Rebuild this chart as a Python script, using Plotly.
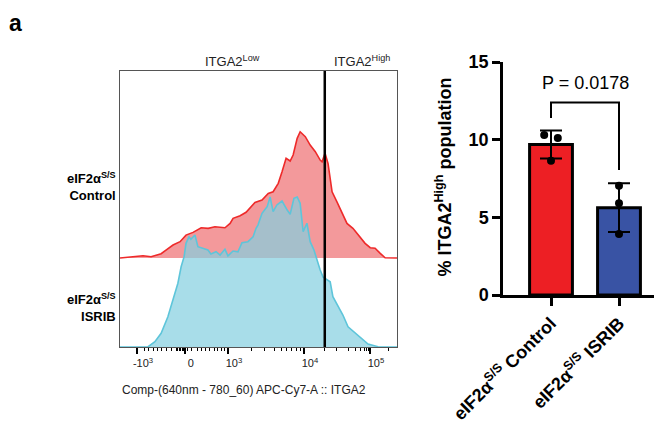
import plotly.graph_objects as go

# The page body keeps an 8 px default margin, so the figure is drawn 8 px in from the window corner.
WIN_W, WIN_H = 662, 423
BODY = 8
W, H = WIN_W - BODY, WIN_H - BODY

# ---------------- Flow histogram data (display channel 0-1024, count as % of max) ----------------
red_channel = [0, 48, 85, 115, 152, 170, 196, 222, 244, 270, 300, 326, 351, 388, 407, 418, 444, 466,
               485, 499, 525, 548, 566, 585, 599, 614, 629, 640, 655, 666, 685, 703, 722, 740, 747,
               758, 769, 777, 784, 802, 821, 839, 861, 888, 906, 925, 943, 962, 980, 1024]
red_count = [0, 0.7, 1.5, 0.9, 2.9, 5.3, 8.7, 10.9, 15.3, 17.1, 20.2, 19.8, 20.9, 20.2, 23.1, 26.5, 28.2, 30.5,
             34.2, 37.1, 38.7, 43.1, 44.2, 49.8, 57.5, 66.5, 64.7, 68.7, 79.8, 84.2, 80.9, 75.3, 70.9, 65.3, 64.2,
             69.8, 63.1, 53.1, 44.2, 37.5, 29.8, 23.1, 19.8, 14.2, 9.8, 6.9, 6.5, 3.1, 0.2, 0]

cyan_channel = [0, 104, 129, 152, 177, 196, 214, 226, 237, 244, 255, 262, 277, 288, 307, 325, 336, 355,
                370, 388, 399, 418, 436, 451, 473, 492, 503, 510, 525, 544, 555, 566, 580, 599, 618, 629,
                643, 655, 666, 677, 691, 703, 717, 728, 740, 751, 765, 777, 787, 806, 824, 843, 869, 895,
                917, 954, 991, 1024]
cyan_count = [0, 0.2, 3.5, 9.1, 20.2, 31.3, 42.5, 53.5, 60.2, 69.1, 73.5, 71.8, 74.7, 66.9, 65.8, 64.7, 62, 63.5,
              61.3, 65.1, 60.7, 64, 63.5, 69.5, 70.2, 73.5, 79.1, 81.3, 89.1, 93.5, 100, 90.2, 94.7, 97.3, 91.3, 88.5,
              99.1, 100, 95.8, 76.9, 82.5, 70.2, 64.7, 58, 51.3, 46.5, 44.7, 43.5, 33.5, 26.9, 21.3, 13.5, 9.5, 5.8,
              2, 0.2, 0, 0]

flow_tick_vals = [63, 240, 399, 680, 924]
flow_tick_text = ["-10<sup>3</sup>", "0", "10<sup>3</sup>", "10<sup>4</sup>", "10<sup>5</sup>"]
flow_minor_vals = [91, 107, 122, 138, 155, 171, 190, 209, 214, 220, 225, 231, 236, 250,
                   266, 286, 300, 315, 332, 350, 362, 377, 387,
                   485, 535, 572, 596, 615, 633, 652, 668,
                   755, 800, 843, 870, 890, 902, 911, 917, 991]
gate_channel = 757
red_offset = 59.3   # stacked-histogram offset of the upper (Control) row

# ---------------- Bar chart data ----------------
groups = ["eIF2α<sup>S/S</sup> Control", "eIF2α<sup>S/S</sup> ISRIB"]
control_pts = [10.3, 10.1, 8.65]
isrib_pts = [7.04, 5.9, 3.93]
control_jitter = [-0.1, 0.1, 0.0]
isrib_jitter = [0.0, 0.0, 0.0]
bar_colors = ["#ed1f24", "#3953a4"]
p_text = "P = 0.0178"


def mean(v):
    return sum(v) / len(v)


def sd(v):
    m = mean(v)
    return (sum((a - m) ** 2 for a in v) / (len(v) - 1)) ** 0.5


means = [mean(control_pts), mean(isrib_pts)]
sds = [sd(control_pts), sd(isrib_pts)]

FONT = "Arial, Liberation Sans, sans-serif"


def px(x):
    return (x - BODY) / W


def py(y):
    return 1 - (y - BODY) / H


fig = go.Figure()

# Flow histograms
fig.add_trace(go.Scatter(x=[0, 1024], y=[red_offset, red_offset], mode="lines",
                         line=dict(width=0, color="rgba(0,0,0,0)"), hoverinfo="skip",
                         xaxis="x", yaxis="y"))
fig.add_trace(go.Scatter(x=red_channel, y=[red_offset + c for c in red_count], mode="lines",
                         line=dict(color="#ee2a2a", width=1.6), fill="tonexty", fillcolor="#f3999b",
                         xaxis="x", yaxis="y"))
fig.add_trace(go.Scatter(x=cyan_channel, y=cyan_count, mode="lines",
                         line=dict(color="#5ec5da", width=1.6), fill="tozeroy",
                         fillcolor="rgba(131,206,224,0.7)", xaxis="x", yaxis="y"))

# Bar chart
fig.add_trace(go.Bar(x=[0, 1], y=means, width=0.63, marker=dict(color=bar_colors,
                     line=dict(color="black", width=3)),
                     error_y=dict(type="data", array=sds, visible=True, color="black",
                                  thickness=2, width=11),
                     xaxis="x2", yaxis="y2"))
fig.add_trace(go.Scatter(x=[0 + j for j in control_jitter] + [1 + j for j in isrib_jitter],
                         y=control_pts + isrib_pts, mode="markers",
                         marker=dict(color="black", size=8), xaxis="x2", yaxis="y2"))
# significance bracket
fig.add_trace(go.Scatter(x=[0, 0, 1, 1], y=[11.4, 12.4, 12.4, 8.05], mode="lines",
                         line=dict(color="black", width=2), xaxis="x2", yaxis="y2"))

fig.update_layout(
    template="none",
    width=W, height=H, margin=dict(l=0, r=0, t=0, b=0, pad=0, autoexpand=False),
    paper_bgcolor="white", plot_bgcolor="white", showlegend=False,
    font=dict(family=FONT, color="black"),
    xaxis=dict(domain=[px(120), px(397)], range=[0, 1024], anchor="y", automargin=False,
               showline=True, linecolor="#555", linewidth=1.2, mirror=True,
               showgrid=False, zeroline=False,
               tickmode="array", tickvals=flow_tick_vals, ticktext=flow_tick_text,
               ticks="outside", ticklen=6, tickwidth=2, tickcolor="black",
               ticklabelshift=6,
               tickfont=dict(size=11, color="#222"),
               minor=dict(tickmode="array", tickvals=flow_minor_vals, ticks="outside",
                          ticklen=3, tickwidth=1.2, tickcolor="black", showgrid=False)),
    yaxis=dict(domain=[py(347), py(71)], range=[0, 184], anchor="x", automargin=False,
               showline=True, linecolor="#555", linewidth=1.2, mirror=True,
               showgrid=False, zeroline=False, showticklabels=False, ticks=""),
    xaxis2=dict(domain=[px(503), px(660)], range=[-0.706, 1.603], anchor="y2", automargin=False,
                tickmode="array", tickvals=[0, 1], ticktext=groups, tickangle=-45,
                showline=True, linecolor="black", linewidth=2.5,
                ticks="outside", ticklen=8, tickwidth=2.5, tickcolor="black",
                showgrid=False, zeroline=False,
                tickfont=dict(size=18, weight="bold", color="black")),
    yaxis2=dict(domain=[py(295), py(62)], range=[0, 15], anchor="x2", automargin=False,
                tickmode="array", tickvals=[0, 5, 10, 15],
                showline=True, linecolor="black", linewidth=2.5,
                ticks="outside", ticklen=8, tickwidth=2.5, tickcolor="black",
                showgrid=False, zeroline=False,
                tickfont=dict(size=18, weight="bold", color="black")),
)

fig.add_shape(type="line", xref="x", yref="paper", x0=gate_channel, x1=gate_channel,
              y0=py(347), y1=py(71), line=dict(color="black", width=2.5), layer="above")

ann = [
    dict(text="a", x=px(15), y=1, size=23, bold=True, xanchor="center", yanchor="top"),
    dict(text="ITGA2<sup>Low</sup>", x=px(232), y=py(61), size=13, bold=False, xanchor="center", color="#222"),
    dict(text="ITGA2<sup>High</sup>", x=px(362), y=py(61), size=13, bold=False, xanchor="center", color="#222"),
    dict(text="eIF2α<sup>S/S</sup><br>Control", x=px(118), y=py(186), size=13, bold=True, xanchor="right"),
    dict(text="eIF2α<sup>S/S</sup><br>ISRIB", x=px(118), y=py(307), size=13, bold=True, xanchor="right"),
    dict(text="Comp-(640nm - 780_60) APC-Cy7-A :: ITGA2", x=px(244), y=py(390), size=12, bold=False,
         xanchor="center", color="#222"),
]
for a in ann:
    fig.add_annotation(text=a["text"], x=a["x"], y=a["y"], xref="paper", yref="paper",
                       xanchor=a["xanchor"], yanchor=a.get("yanchor", "middle"), showarrow=False,
                       align="right",
                       font=dict(family=FONT, size=a["size"], color=a.get("color", "black"),
                                 weight="bold" if a["bold"] else "normal"))

fig.add_annotation(text=p_text, x=0.5, y=13.65, xref="x2", yref="y2", showarrow=False,
                   font=dict(family=FONT, size=18, color="black"))
fig.add_annotation(text="% ITGA2<sup>High</sup> population", x=px(457), y=py(177), xref="paper", yref="paper",
                   textangle=-90, showarrow=False,
                   font=dict(family=FONT, size=18, color="black", weight="bold"))

fig.write_html("out.html")
